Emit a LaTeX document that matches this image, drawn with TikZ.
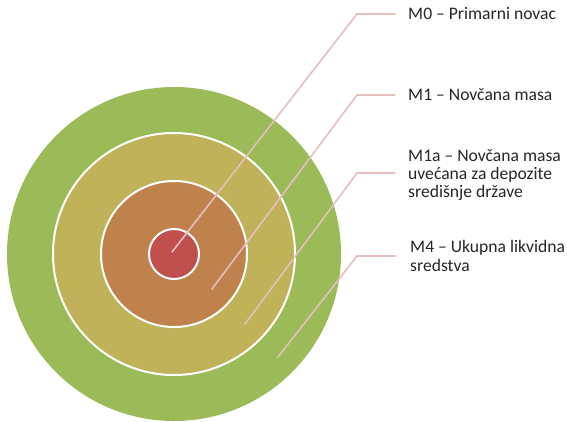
\documentclass[tikz,border=0pt]{standalone}
\usepackage{fontspec}
\setmainfont{Carlito}
\definecolor{cgreen}{RGB}{155,187,89}
\definecolor{cyellow}{RGB}{192,178,88}
\definecolor{corange}{RGB}{192,130,77}
\definecolor{cred}{RGB}{192,80,77}
\definecolor{cleader}{RGB}{230,190,190}
\begin{document}
\begin{tikzpicture}[x=1pt,y=-1pt,
  ring/.style={circle,draw=white,line width=2pt,inner sep=0pt},
  leader/.style={draw=cleader,line width=1.6pt,line cap=round},
  lbl/.style={anchor=west,font=\fontsize{17.6}{18.3}\selectfont,align=left,inner sep=0pt,text=black!85}]
\useasboundingbox (0,0) rectangle (567,421);
\node[circle,fill=cgreen,inner sep=0pt,minimum size=334pt] (c4) at (174,254) {};
\node[ring,fill=cyellow,minimum size=242pt] (c3) at (174,254) {};
\node[ring,fill=corange,minimum size=146pt] (c2) at (174,254) {};
\node[ring,fill=cred,minimum size=50pt] (c1) at (174,254) {};
\coordinate (s1) at (172,252);
\coordinate (s2) at (212,289);
\coordinate (s3) at (245,324);
\coordinate (s4) at (278,357);
\coordinate (k1) at (357,14);
\coordinate (k2) at (357,95);
\coordinate (k3) at (357,173);
\coordinate (k4) at (357,256);
\coordinate (e1) at (395,14);
\coordinate (e2) at (395,95);
\coordinate (e3) at (395,173);
\coordinate (e4) at (395,256);
\draw[leader] (s1) -- (k1) -- (e1);
\draw[leader] (s2) -- (k2) -- (e2);
\draw[leader] (s3) -- (k3) -- (e3);
\draw[leader] (s4) -- (k4) -- (e4);
\node[lbl] (t1) at (408,14) {M0 – Primarni novac};
\node[lbl] (t2) at (408,95) {M1 – Novčana masa};
\node[lbl] (t3) at (408,175) {M1a – Novčana masa\\uvećana za depozite\\središnje države};
\node[lbl] (t4) at (410,256) {M4 – Ukupna likvidna\\sredstva};
\end{tikzpicture}
\end{document}
